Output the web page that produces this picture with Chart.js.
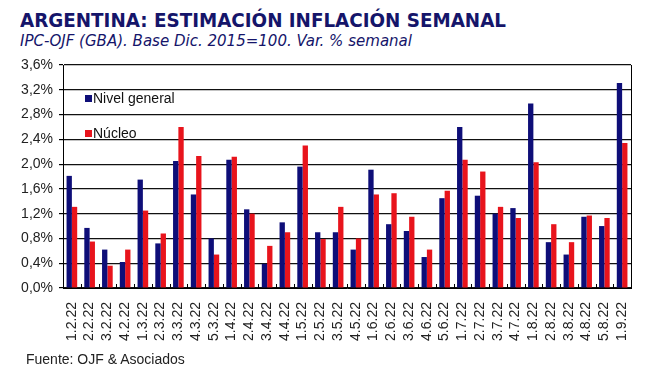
<!DOCTYPE html>
<html>
<head>
<meta charset="utf-8">
<script src="https://cdn.jsdelivr.net/npm/chart.js"></script>
<style>
  body { margin: 0; background: #fff; width: 652px; height: 391px; overflow: hidden; position: relative; }
  #title { position: absolute; left: 20px; top: 8px; font: bold 20px "DejaVu Sans Condensed", sans-serif; color: #15156a; white-space: nowrap; transform-origin: left top; }
  #subtitle { position: absolute; left: 20px; top: 32px; font: italic 15px "DejaVu Sans Condensed", sans-serif; color: #15156a; white-space: nowrap; transform-origin: left top; }
  #source { position: absolute; left: 26px; top: 351px; font: 14px "Liberation Sans", Arial, sans-serif; color: #222; white-space: nowrap; }
  canvas { position: absolute; left: 0; top: 0; }
</style>
</head>
<body>
<div id="title">ARGENTINA: ESTIMACIÓN INFLACIÓN SEMANAL</div>
<div id="subtitle">IPC-OJF (GBA). Base Dic. 2015=100. Var. % semanal</div>
<canvas id="chart" width="652" height="391"></canvas>
<div id="source">Fuente: OJF &amp; Asociados</div>
<script>
const weeks = [
  "1.2.22", "2.2.22", "3.2.22", "4.2.22", "1.3.22", "2.3.22", "3.3.22", "4.3.22",
  "5.3.22", "1.4.22", "2.4.22", "3.4.22", "4.4.22", "1.5.22", "2.5.22", "3.5.22",
  "4.5.22", "1.6.22", "2.6.22", "3.6.22", "4.6.22", "5.6.22", "1.7.22", "2.7.22",
  "3.7.22", "4.7.22", "1.8.22", "2.8.22", "3.8.22", "4.8.22", "5.8.22", "1.9.22",
];
const nivelGeneral = [
  1.81, 0.97, 0.62, 0.42, 1.75, 0.72, 2.05, 1.51,
  0.80, 2.07, 1.27, 0.39, 1.06, 1.96, 0.90, 0.90,
  0.62, 1.91, 1.03, 0.92, 0.50, 1.45, 2.60, 1.49,
  1.20, 1.29, 2.98, 0.74, 0.54, 1.15, 1.00, 3.31,
];
const nucleo = [
  1.31, 0.75, 0.36, 0.62, 1.25, 0.88, 2.60, 2.13,
  0.54, 2.12, 1.20, 0.68, 0.90, 2.30, 0.79, 1.31,
  0.80, 1.51, 1.53, 1.15, 0.62, 1.57, 2.07, 1.88,
  1.31, 1.13, 2.03, 1.03, 0.74, 1.17, 1.13, 2.34,
];
const yMax = 3.6;
const yStep = 0.4;

const NAVY = "#0e0e78";
const RED = "#e8141c";

// squeeze header text to the width it has in the picture
function fitWidth(id, target) {
  const el = document.getElementById(id);
  const w = el.getBoundingClientRect().width;
  el.style.transform = `scaleX(${target / w})`;
}
fitWidth("title", 486);
fitWidth("subtitle", 392);

// frame on the right + small inner ticks on the category axis
const framePlugin = {
  id: "frame",
  afterDatasetsDraw(chart) {
    const { ctx, chartArea: a } = chart;
    ctx.save();
    ctx.strokeStyle = "#000";
    ctx.lineWidth = 1;
    ctx.beginPath();
    ctx.moveTo(a.right + 0.5, a.top);
    ctx.lineTo(a.right + 0.5, a.bottom);
    const step = (a.right - a.left) / weeks.length;
    for (let i = 1; i < weeks.length; i++) {
      const px = Math.round(a.left + i * step) + 0.5;
      ctx.moveTo(px, a.bottom);
      ctx.lineTo(px, a.bottom - 4);
    }
    ctx.stroke();
    ctx.restore();
  },
};

// legend sits inside the plot, upper left
const legendPlugin = {
  id: "inlineLegend",
  afterDraw(chart) {
    const { ctx, chartArea: a } = chart;
    ctx.save();
    ctx.font = '14px "Liberation Sans", Arial, sans-serif';
    ctx.textBaseline = "middle";
    chart.data.datasets.forEach((ds, i) => {
      const y = a.top + 34 + i * 35;
      ctx.fillStyle = ds.backgroundColor;
      ctx.fillRect(a.left + 22, y - 4, 7, 7);
      ctx.fillStyle = "#111";
      ctx.fillText(ds.label, a.left + 30, y);
    });
    ctx.restore();
  },
};

new Chart(document.getElementById("chart"), {
  type: "bar",
  data: {
    labels: weeks,
    datasets: [
      { label: "Nivel general", data: nivelGeneral, backgroundColor: NAVY },
      { label: "Núcleo", data: nucleo, backgroundColor: RED },
    ],
  },
  options: {
    responsive: false,
    animation: false,
    datasets: { bar: { categoryPercentage: 0.6, barPercentage: 1.0 } },
    layout: { padding: { top: 65, right: 21, bottom: 0, left: 0 } },
    plugins: { legend: { display: false }, tooltip: { enabled: false } },
    scales: {
      x: {
        grid: { display: false },
        border: { display: true, color: "#000", width: 1 },
        ticks: {
          minRotation: 90, maxRotation: 90, autoSkip: false, padding: 6,
          color: "#222", font: { family: '"Liberation Sans", Arial, sans-serif', size: 14 },
        },
        afterFit(scale) { scale.height = 103; },
      },
      y: {
        min: 0,
        max: yMax,
        ticks: {
          stepSize: yStep, padding: 6, color: "#222",
          font: { family: '"Liberation Sans", Arial, sans-serif', size: 14 },
          callback: (v) => v.toFixed(1).replace(".", ",") + "%",
        },
        grid: {
          color: "#111", lineWidth: 1.2, borderDash: [4, 3],
          tickLength: 4, tickColor: "#000", tickBorderDash: [],
        },
        border: { display: true, color: "#000", width: 1 },
        afterFit(scale) { scale.width = 63; },
      },
    },
  },
  plugins: [framePlugin, legendPlugin],
});
</script>
</body>
</html>
